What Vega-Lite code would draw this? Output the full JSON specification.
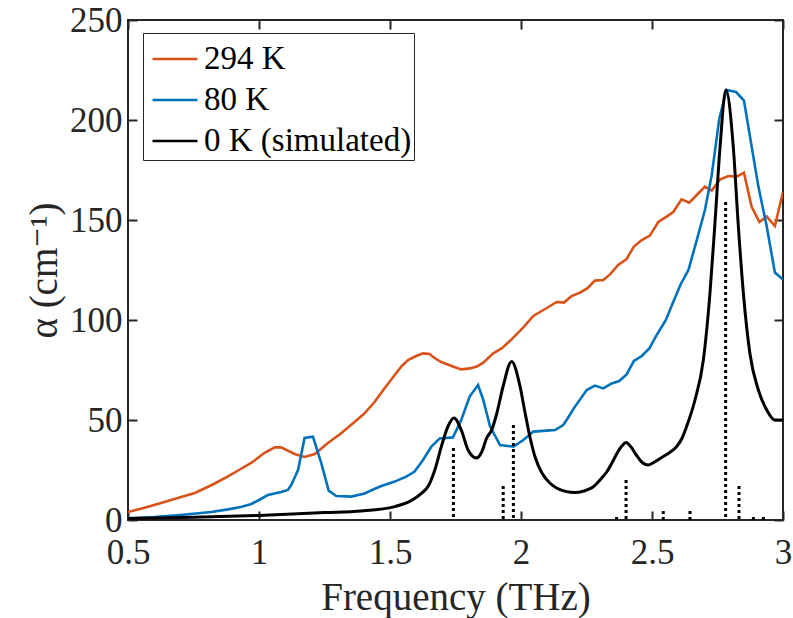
{
  "$schema": "https://vega.github.io/schema/vega-lite/v6.json",
  "width": 655,
  "height": 500,
  "autosize": {"type": "none"},
  "padding": {"left": 128, "top": 20, "right": 10, "bottom": 98},
  "background": "white",
  "config": {
    "view": {"stroke": "#262626", "strokeWidth": 2},
    "font": "'Liberation Serif', 'Times New Roman', 'DejaVu Serif', serif",
    "axis": {
      "grid": false,
      "domain": false,
      "tickColor": "#262626",
      "tickWidth": 2,
      "tickSize": -9,
      "labelColor": "#262626",
      "labelFont": "'Liberation Serif', 'Times New Roman', 'DejaVu Serif', serif",
      "labelFontSize": 35,
      "titleFont": "'Liberation Serif', 'Times New Roman', 'DejaVu Serif', serif",
      "titleFontSize": 39,
      "titleFontWeight": "normal",
      "titleColor": "#262626"
    }
  },
  "datasets": {
    "curves": [
      {"series": "294 K", "f": 0.5, "a": 4},
      {"series": "294 K", "f": 0.56, "a": 6},
      {"series": "294 K", "f": 0.626, "a": 8.5},
      {"series": "294 K", "f": 0.69, "a": 11},
      {"series": "294 K", "f": 0.755, "a": 13.5},
      {"series": "294 K", "f": 0.82, "a": 17.5},
      {"series": "294 K", "f": 0.88, "a": 21.7},
      {"series": "294 K", "f": 0.93, "a": 25.5},
      {"series": "294 K", "f": 0.97, "a": 28.5},
      {"series": "294 K", "f": 1.02, "a": 33.5},
      {"series": "294 K", "f": 1.06, "a": 36.3},
      {"series": "294 K", "f": 1.084, "a": 36.3},
      {"series": "294 K", "f": 1.136, "a": 33},
      {"series": "294 K", "f": 1.174, "a": 31.5},
      {"series": "294 K", "f": 1.213, "a": 33},
      {"series": "294 K", "f": 1.263, "a": 38.5},
      {"series": "294 K", "f": 1.31, "a": 43},
      {"series": "294 K", "f": 1.351, "a": 47.5},
      {"series": "294 K", "f": 1.4, "a": 53},
      {"series": "294 K", "f": 1.441, "a": 59},
      {"series": "294 K", "f": 1.48, "a": 66},
      {"series": "294 K", "f": 1.518, "a": 72.5},
      {"series": "294 K", "f": 1.545, "a": 77},
      {"series": "294 K", "f": 1.569, "a": 80},
      {"series": "294 K", "f": 1.6, "a": 82},
      {"series": "294 K", "f": 1.626, "a": 83.3},
      {"series": "294 K", "f": 1.651, "a": 83},
      {"series": "294 K", "f": 1.67, "a": 81},
      {"series": "294 K", "f": 1.696, "a": 79},
      {"series": "294 K", "f": 1.735, "a": 77},
      {"series": "294 K", "f": 1.772, "a": 75.3},
      {"series": "294 K", "f": 1.805, "a": 75.8},
      {"series": "294 K", "f": 1.831, "a": 76.7},
      {"series": "294 K", "f": 1.856, "a": 78.7},
      {"series": "294 K", "f": 1.894, "a": 83.3},
      {"series": "294 K", "f": 1.926, "a": 85.8},
      {"series": "294 K", "f": 1.964, "a": 90.3},
      {"series": "294 K", "f": 2.009, "a": 96.3},
      {"series": "294 K", "f": 2.047, "a": 102},
      {"series": "294 K", "f": 2.079, "a": 104.5},
      {"series": "294 K", "f": 2.111, "a": 107},
      {"series": "294 K", "f": 2.136, "a": 109},
      {"series": "294 K", "f": 2.164, "a": 108.7},
      {"series": "294 K", "f": 2.193, "a": 112},
      {"series": "294 K", "f": 2.225, "a": 113.7},
      {"series": "294 K", "f": 2.253, "a": 115.8},
      {"series": "294 K", "f": 2.282, "a": 119.7},
      {"series": "294 K", "f": 2.314, "a": 120},
      {"series": "294 K", "f": 2.34, "a": 122.8},
      {"series": "294 K", "f": 2.371, "a": 127.5},
      {"series": "294 K", "f": 2.403, "a": 130.5},
      {"series": "294 K", "f": 2.431, "a": 136.7},
      {"series": "294 K", "f": 2.461, "a": 140},
      {"series": "294 K", "f": 2.492, "a": 142.2},
      {"series": "294 K", "f": 2.524, "a": 149},
      {"series": "294 K", "f": 2.556, "a": 151.7},
      {"series": "294 K", "f": 2.581, "a": 154},
      {"series": "294 K", "f": 2.613, "a": 160.3},
      {"series": "294 K", "f": 2.642, "a": 158.7},
      {"series": "294 K", "f": 2.671, "a": 162.5},
      {"series": "294 K", "f": 2.702, "a": 166.7},
      {"series": "294 K", "f": 2.728, "a": 164.7},
      {"series": "294 K", "f": 2.76, "a": 170.3},
      {"series": "294 K", "f": 2.792, "a": 172},
      {"series": "294 K", "f": 2.823, "a": 171.7},
      {"series": "294 K", "f": 2.851, "a": 173.7},
      {"series": "294 K", "f": 2.88, "a": 156.7},
      {"series": "294 K", "f": 2.91, "a": 149},
      {"series": "294 K", "f": 2.938, "a": 151.7},
      {"series": "294 K", "f": 2.969, "a": 147},
      {"series": "294 K", "f": 3.0, "a": 164},
      {"series": "80 K", "f": 0.5, "a": 0.8},
      {"series": "80 K", "f": 0.6, "a": 1.5},
      {"series": "80 K", "f": 0.7, "a": 2.5},
      {"series": "80 K", "f": 0.818, "a": 4},
      {"series": "80 K", "f": 0.882, "a": 5.3},
      {"series": "80 K", "f": 0.93, "a": 6.5},
      {"series": "80 K", "f": 0.971, "a": 8},
      {"series": "80 K", "f": 1.0, "a": 10},
      {"series": "80 K", "f": 1.034, "a": 12.5},
      {"series": "80 K", "f": 1.085, "a": 14},
      {"series": "80 K", "f": 1.11, "a": 15},
      {"series": "80 K", "f": 1.123, "a": 17.5},
      {"series": "80 K", "f": 1.149, "a": 25},
      {"series": "80 K", "f": 1.174, "a": 41},
      {"series": "80 K", "f": 1.206, "a": 41.7},
      {"series": "80 K", "f": 1.238, "a": 28.3},
      {"series": "80 K", "f": 1.266, "a": 14.7},
      {"series": "80 K", "f": 1.295, "a": 12},
      {"series": "80 K", "f": 1.352, "a": 11.7},
      {"series": "80 K", "f": 1.403, "a": 13.3},
      {"series": "80 K", "f": 1.44, "a": 15.5},
      {"series": "80 K", "f": 1.467, "a": 17},
      {"series": "80 K", "f": 1.518, "a": 19.2},
      {"series": "80 K", "f": 1.562, "a": 21.7},
      {"series": "80 K", "f": 1.594, "a": 24.2},
      {"series": "80 K", "f": 1.626, "a": 30},
      {"series": "80 K", "f": 1.658, "a": 36.7},
      {"series": "80 K", "f": 1.69, "a": 40.8},
      {"series": "80 K", "f": 1.74, "a": 41.3},
      {"series": "80 K", "f": 1.772, "a": 50},
      {"series": "80 K", "f": 1.804, "a": 61.7},
      {"series": "80 K", "f": 1.836, "a": 67.5},
      {"series": "80 K", "f": 1.856, "a": 60},
      {"series": "80 K", "f": 1.882, "a": 46.7},
      {"series": "80 K", "f": 1.92, "a": 37.5},
      {"series": "80 K", "f": 1.971, "a": 36.7},
      {"series": "80 K", "f": 2.009, "a": 40},
      {"series": "80 K", "f": 2.047, "a": 44.2},
      {"series": "80 K", "f": 2.098, "a": 44.7},
      {"series": "80 K", "f": 2.13, "a": 45},
      {"series": "80 K", "f": 2.161, "a": 47.5},
      {"series": "80 K", "f": 2.174, "a": 50},
      {"series": "80 K", "f": 2.206, "a": 56.7},
      {"series": "80 K", "f": 2.251, "a": 65},
      {"series": "80 K", "f": 2.282, "a": 67.2},
      {"series": "80 K", "f": 2.314, "a": 65.8},
      {"series": "80 K", "f": 2.346, "a": 68.3},
      {"series": "80 K", "f": 2.375, "a": 69.5},
      {"series": "80 K", "f": 2.403, "a": 72.8},
      {"series": "80 K", "f": 2.431, "a": 79.5},
      {"series": "80 K", "f": 2.461, "a": 82},
      {"series": "80 K", "f": 2.49, "a": 85.8},
      {"series": "80 K", "f": 2.518, "a": 92.5},
      {"series": "80 K", "f": 2.553, "a": 100},
      {"series": "80 K", "f": 2.581, "a": 109},
      {"series": "80 K", "f": 2.61, "a": 118},
      {"series": "80 K", "f": 2.639, "a": 125},
      {"series": "80 K", "f": 2.671, "a": 140},
      {"series": "80 K", "f": 2.702, "a": 155},
      {"series": "80 K", "f": 2.728, "a": 172.5},
      {"series": "80 K", "f": 2.757, "a": 200.8},
      {"series": "80 K", "f": 2.785, "a": 215},
      {"series": "80 K", "f": 2.821, "a": 214},
      {"series": "80 K", "f": 2.851, "a": 209.7},
      {"series": "80 K", "f": 2.874, "a": 191.7},
      {"series": "80 K", "f": 2.906, "a": 166.7},
      {"series": "80 K", "f": 2.938, "a": 146.7},
      {"series": "80 K", "f": 2.969, "a": 123.7},
      {"series": "80 K", "f": 3.0, "a": 120.3},
      {"series": "0 K (simulated)", "f": 0.5, "a": 0.8},
      {"series": "0 K (simulated)", "f": 0.75, "a": 1.4},
      {"series": "0 K (simulated)", "f": 1.0, "a": 2.3},
      {"series": "0 K (simulated)", "f": 1.25, "a": 3.7},
      {"series": "0 K (simulated)", "f": 1.39, "a": 4.5},
      {"series": "0 K (simulated)", "f": 1.518, "a": 6.7},
      {"series": "0 K (simulated)", "f": 1.581, "a": 9.7},
      {"series": "0 K (simulated)", "f": 1.62, "a": 13.3},
      {"series": "0 K (simulated)", "f": 1.645, "a": 16.7},
      {"series": "0 K (simulated)", "f": 1.671, "a": 25},
      {"series": "0 K (simulated)", "f": 1.696, "a": 36.7},
      {"series": "0 K (simulated)", "f": 1.721, "a": 46.7},
      {"series": "0 K (simulated)", "f": 1.744, "a": 51},
      {"series": "0 K (simulated)", "f": 1.772, "a": 45},
      {"series": "0 K (simulated)", "f": 1.798, "a": 35},
      {"series": "0 K (simulated)", "f": 1.83, "a": 31},
      {"series": "0 K (simulated)", "f": 1.85, "a": 34},
      {"series": "0 K (simulated)", "f": 1.869, "a": 41},
      {"series": "0 K (simulated)", "f": 1.888, "a": 45},
      {"series": "0 K (simulated)", "f": 1.907, "a": 53},
      {"series": "0 K (simulated)", "f": 1.932, "a": 67},
      {"series": "0 K (simulated)", "f": 1.964, "a": 79.2},
      {"series": "0 K (simulated)", "f": 1.996, "a": 67},
      {"series": "0 K (simulated)", "f": 2.015, "a": 54},
      {"series": "0 K (simulated)", "f": 2.035, "a": 41},
      {"series": "0 K (simulated)", "f": 2.055, "a": 31},
      {"series": "0 K (simulated)", "f": 2.08, "a": 23.5},
      {"series": "0 K (simulated)", "f": 2.11, "a": 18.5},
      {"series": "0 K (simulated)", "f": 2.136, "a": 16},
      {"series": "0 K (simulated)", "f": 2.17, "a": 14.3},
      {"series": "0 K (simulated)", "f": 2.206, "a": 13.7},
      {"series": "0 K (simulated)", "f": 2.24, "a": 14.5},
      {"series": "0 K (simulated)", "f": 2.275, "a": 16.5},
      {"series": "0 K (simulated)", "f": 2.305, "a": 20.5},
      {"series": "0 K (simulated)", "f": 2.327, "a": 24},
      {"series": "0 K (simulated)", "f": 2.347, "a": 28.5},
      {"series": "0 K (simulated)", "f": 2.365, "a": 33},
      {"series": "0 K (simulated)", "f": 2.385, "a": 37},
      {"series": "0 K (simulated)", "f": 2.401, "a": 38.7},
      {"series": "0 K (simulated)", "f": 2.42, "a": 36.5},
      {"series": "0 K (simulated)", "f": 2.44, "a": 32.5},
      {"series": "0 K (simulated)", "f": 2.465, "a": 28.5},
      {"series": "0 K (simulated)", "f": 2.486, "a": 27.5},
      {"series": "0 K (simulated)", "f": 2.51, "a": 29},
      {"series": "0 K (simulated)", "f": 2.543, "a": 31.7},
      {"series": "0 K (simulated)", "f": 2.57, "a": 34},
      {"series": "0 K (simulated)", "f": 2.594, "a": 36.7},
      {"series": "0 K (simulated)", "f": 2.615, "a": 41},
      {"series": "0 K (simulated)", "f": 2.632, "a": 46.7},
      {"series": "0 K (simulated)", "f": 2.664, "a": 60},
      {"series": "0 K (simulated)", "f": 2.696, "a": 80},
      {"series": "0 K (simulated)", "f": 2.721, "a": 113},
      {"series": "0 K (simulated)", "f": 2.74, "a": 148},
      {"series": "0 K (simulated)", "f": 2.76, "a": 187},
      {"series": "0 K (simulated)", "f": 2.782, "a": 215},
      {"series": "0 K (simulated)", "f": 2.81, "a": 187},
      {"series": "0 K (simulated)", "f": 2.829, "a": 148},
      {"series": "0 K (simulated)", "f": 2.849, "a": 113},
      {"series": "0 K (simulated)", "f": 2.874, "a": 83},
      {"series": "0 K (simulated)", "f": 2.906, "a": 65},
      {"series": "0 K (simulated)", "f": 2.938, "a": 55},
      {"series": "0 K (simulated)", "f": 2.969, "a": 50},
      {"series": "0 K (simulated)", "f": 3.0, "a": 50}
    ],
    "sticks": [
      {"f": 1.742, "a": 36},
      {"f": 1.932, "a": 17},
      {"f": 1.971, "a": 47.5},
      {"f": 2.365, "a": 1.5},
      {"f": 2.401, "a": 20},
      {"f": 2.543, "a": 4.5},
      {"f": 2.645, "a": 4.5},
      {"f": 2.781, "a": 159},
      {"f": 2.832, "a": 17},
      {"f": 2.887, "a": 1.5},
      {"f": 2.925, "a": 1.5}
    ]
  },
  "layer": [
    {
      "data": {"name": "curves"},
      "transform": [{"filter": "datum.series !== '0 K (simulated)'"}],
      "mark": {"type": "line", "strokeWidth": 2.6, "clip": true},
      "encoding": {
        "x": {
          "field": "f", "type": "quantitative",
          "scale": {"domain": [0.5, 3], "nice": false, "zero": false},
          "axis": {"orient": "bottom", "values": [0.5, 1, 1.5, 2, 2.5, 3], "format": ".1~f", "labelPadding": 24, "labelFlush": false, "labelOverlap": false, "title": "Frequency (THz)", "titlePadding": 8}
        },
        "y": {
          "field": "a", "type": "quantitative",
          "scale": {"domain": [0, 250], "nice": false},
          "axis": {"orient": "left", "values": [0, 50, 100, 150, 200, 250], "labelPadding": 15, "labelFlush": false, "labelOverlap": false, "title": "α (cm⁻¹)", "titlePadding": 5}
        },
        "color": {
          "field": "series", "type": "nominal",
          "scale": {"domain": ["294 K", "80 K", "0 K (simulated)"], "range": ["#D95319", "#0072BD", "#000000"]},
          "legend": {
            "title": null,
            "orient": "none",
            "legendX": 15,
            "legendY": 13,
            "symbolType": "stroke",
            "symbolSize": 2025,
            "symbolStrokeWidth": 2.6,
            "symbolOffset": 6,
            "labelFont": "'Liberation Serif', 'Times New Roman', 'DejaVu Serif', serif",
            "labelFontSize": 33,
            "labelColor": "#000000",
            "labelLimit": 400,
            "labelOffset": 5,
            "rowPadding": -15,
            "padding": 2,
            "strokeColor": "#262626",
            "fillColor": "white"
          }
        }
      }
    },
    {
      "data": {"name": "curves"},
      "transform": [{"filter": "datum.series === '0 K (simulated)'"}],
      "mark": {"type": "line", "strokeWidth": 3, "interpolate": "monotone", "clip": true},
      "encoding": {
        "x": {"field": "f", "type": "quantitative", "axis": null},
        "y": {"field": "a", "type": "quantitative", "axis": null},
        "color": {"field": "series", "type": "nominal"}
      }
    },
    {
      "data": {"name": "sticks"},
      "mark": {"type": "rule", "strokeDash": [3, 3], "strokeWidth": 3, "color": "#000000"},
      "encoding": {
        "x": {"field": "f", "type": "quantitative", "axis": {"orient": "top", "values": [0.5, 1, 1.5, 2, 2.5, 3], "labels": false, "title": null}},
        "y": {"field": "a", "type": "quantitative", "axis": {"orient": "right", "values": [0, 50, 100, 150, 200, 250], "labels": false, "title": null}},
        "y2": {"datum": 0}
      }
    }
  ],
  "resolve": {"axis": {"x": "independent", "y": "independent"}}
}
